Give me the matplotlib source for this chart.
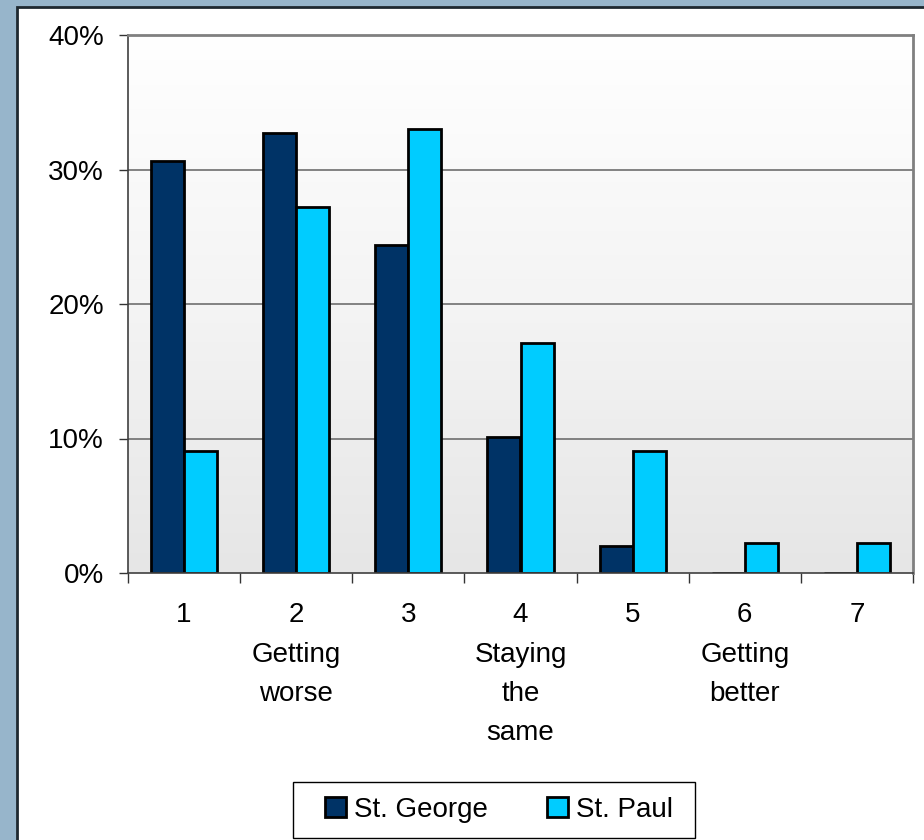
import numpy as np
import matplotlib
matplotlib.use('Agg')
from matplotlib import pyplot as plt
from matplotlib.patches import Rectangle
from matplotlib.colors import LinearSegmentedColormap

plt.rcParams['font.family'] = ['Liberation Sans', 'DejaVu Sans']

categories = ['1', '2\nGetting\nworse', '3', '4\nStaying\nthe\nsame', '5', '6\nGetting\nbetter', '7']
st_george = [30.6, 32.7, 24.4, 10.1, 2.0, 0.0, 0.0]
st_paul = [9.1, 27.2, 33.0, 17.1, 9.1, 2.25, 2.25]
yticks = [0, 10, 20, 30, 40]

fs = 20
W, H = 924, 840
fig = plt.figure(figsize=(W/100, H/100), dpi=100)
fig.patch.set_facecolor('#97b5cb')
# white chart panel behind everything
panel = Rectangle((17/W, -0.01), 1.0, (H-7)/H + 0.01, transform=fig.transFigure,
                  facecolor='white', edgecolor='#1e2830', lw=2, zorder=-10)
fig.add_artist(panel)

ax = fig.add_axes([128/W, (H-573)/H, 785/W, (573-35)/H])
ax.set_facecolor('none')

# gradient plot-area background
cmap = LinearSegmentedColormap.from_list('bg', ['#ffffff', '#f4f4f4', '#e6e6e6'])
grad = np.linspace(0, 1, 256).reshape(-1, 1)
ax.imshow(grad, extent=[0, 1, 0, 1], transform=ax.transAxes, cmap=cmap, aspect='auto',
          origin='upper', zorder=0)

x = np.arange(len(categories))
w = 0.295
ax.bar(x - w/2, st_george, w, color='#003366', edgecolor='black', lw=2, zorder=3, label='St. George')
ax.bar(x + w/2, st_paul, w, color='#00ccff', edgecolor='black', lw=2, zorder=3, label='St. Paul')

ax.set_xlim(-0.5, len(categories) - 0.5)
ax.set_ylim(0, 40)
ax.set_yticks(yticks)
ax.set_yticklabels(['{}%'.format(v) for v in yticks], fontsize=fs)
for v in yticks[1:-1]:
    ax.axhline(v, color='#6e6e6e', lw=1.2, zorder=1)

ax.set_xticks(np.arange(len(categories) + 1) - 0.5)
ax.set_xticklabels([])
ax.set_xticks(x, minor=True)
ax.set_xticklabels(categories, minor=True, fontsize=fs, linespacing=1.67, va='top')
ax.tick_params(axis='x', which='major', length=7.2, width=1, color='#333333', direction='out')
ax.tick_params(axis='x', which='minor', length=0, pad=21)
ax.tick_params(axis='y', length=6.5, width=1, color='#333333', pad=10.8)

for s in ['top', 'right']:
    ax.spines[s].set_color('#808080')
    ax.spines[s].set_linewidth(2)
for s in ['left', 'bottom']:
    ax.spines[s].set_color('#404040')
    ax.spines[s].set_linewidth(1.2)
ax.spines['bottom'].set_zorder(4)

# legend box frame
fig.add_artist(Rectangle((293/W, (H-838)/H), (695-293)/W, (838-782)/H, transform=fig.transFigure,
                         facecolor='white', edgecolor='black', lw=1, zorder=1))
leg = fig.legend(loc='center', bbox_to_anchor=(499/W, 1 - 810/H), ncol=2, fontsize=fs,
                 frameon=False, handlelength=0.75, handleheight=0.75,
                 handletextpad=0.3, columnspacing=2.12, borderpad=0.3)
leg.set_zorder(2)

plt.savefig('out.png', dpi=100)
